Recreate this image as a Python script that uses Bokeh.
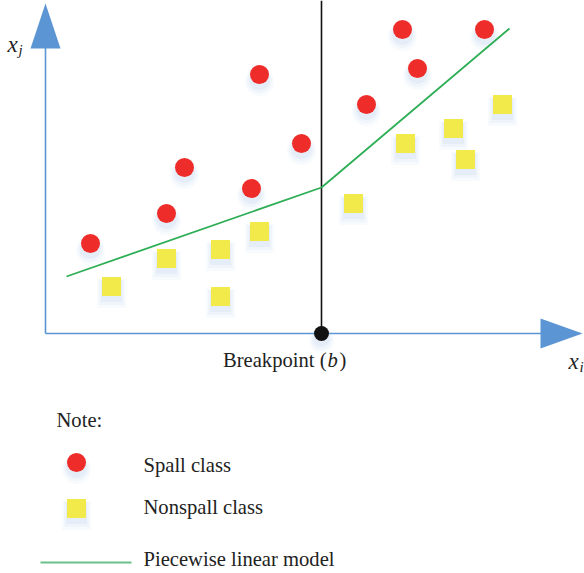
from bokeh.plotting import figure
from bokeh.models import Range1d
from bokeh.core.properties import value
from bokeh.embed import file_html
from bokeh.resources import INLINE

# Feature space: origin sits at the corner of the two axes
spall_x = [45, 121, 139, 206, 214, 256, 321, 357, 372, 439]
spall_y = [90, 120, 166, 145, 259, 190, 229, 304, 265, 304]

nonspall_x = [66, 121, 175, 175, 214, 308, 360, 408, 420, 457]
nonspall_y = [47, 75, 84, 37, 102, 130, 190, 205, 174, 229]

breakpoint_b = 276
model_x = [21, breakpoint_b, 464]
model_y = [57, 146, 305]

RED = "#ee2d2a"
YELLOW = "#f2e94a"
GREEN = "#2eae55"
BLUE = "#5b95d3"
SERIF = value("Liberation Serif")
TXT = "20.6px"

p = figure(width=584, height=573, x_range=Range1d(-45, 539), y_range=Range1d(-240, 333),
           output_backend="svg", toolbar_location=None, min_border=0)
p.axis.visible = False
p.grid.visible = False
p.outline_line_color = None
p.background_fill_color = "white"


def glow(xs, ys, marker, size):
    # soft bluish shadow beneath each marker
    for dy, extra, a in [(-7, 10, 0.06), (-6, 6, 0.08), (-5, 2, 0.10)]:
        p.scatter([x for x in xs], [y + dy for y in ys], marker=marker, size=size + extra,
                  fill_color="#8fb3e3", fill_alpha=a, line_color=None)


def label(x, y, s, size=TXT, style="normal", align="left"):
    p.text([x], [y], text=[s], text_font=SERIF, text_font_style=style, text_font_size=size,
           text_align=align, text_baseline="alphabetic", text_color="#222222")


# axes with arrowheads
p.line([0, 497], [0, 0], line_color=BLUE, line_width=1.6)
p.line([0, 0], [0, 286], line_color=BLUE, line_width=1.6)
p.patch([495, 495, 537], [15, -15, 0], fill_color=BLUE, line_color=None)
p.patch([-15, 15, 0], [285, 285, 330], fill_color=BLUE, line_color=None)

# breakpoint marker
p.line([breakpoint_b, breakpoint_b], [0, 333], line_color="#111111", line_width=1.6)

glow(spall_x, spall_y, "circle", 19)
glow(nonspall_x, nonspall_y, "square", 19)

p.line(model_x, model_y, line_color=GREEN, line_width=1.8)

p.scatter(spall_x, spall_y, marker="circle", size=19, fill_color=RED, line_color=None)
p.scatter(nonspall_x, nonspall_y, marker="square", size=19, fill_color=YELLOW, line_color=None)

glow([breakpoint_b], [0], "circle", 15)
p.scatter([breakpoint_b], [0], marker="circle", size=15, fill_color="#111111", line_color=None)

# axis labels
label(-38, 289, "x", size="23px", style="italic")
label(-27, 284, "j", size="15px", style="italic")
label(523, -28, "x", size="23px", style="italic")
label(534, -33, "i", size="15px", style="italic")

label(281, -26, "Breakpoint (", align="right")
label(282, -26, "b", style="italic")
label(294, -26, ")")

# note / legend
label(11, -86, "Note:")
glow([31], [-129], "circle", 19)
p.scatter([31], [-129], marker="circle", size=19, fill_color=RED, line_color=None)
label(98, -131, "Spall class")
glow([31], [-175], "square", 19)
p.scatter([31], [-175], marker="square", size=19, fill_color=YELLOW, line_color=None)
label(98, -173, "Nonspall class")
p.line([-5, 86], [-229, -229], line_color="#6cc08a", line_width=1.8)
label(98, -225, "Piecewise linear model")

open("out.html", "w").write(file_html(p, INLINE))
